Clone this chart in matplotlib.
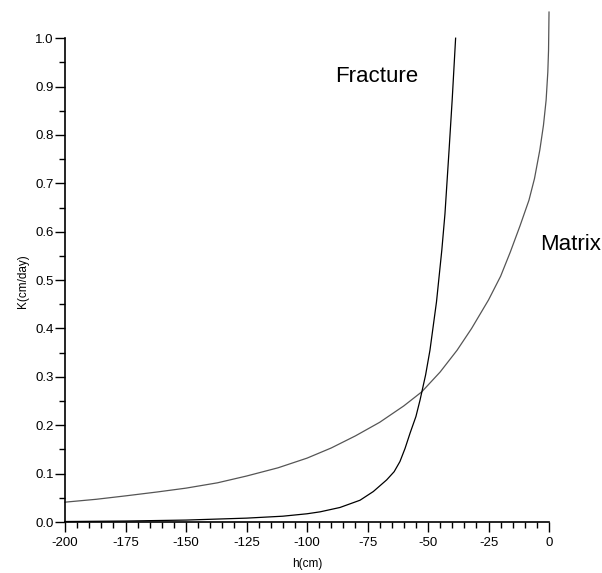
import matplotlib
matplotlib.use('Agg')
import matplotlib.pyplot as plt
from matplotlib.ticker import MultipleLocator, FixedLocator

plt.rcParams['font.family'] = ['Liberation Sans', 'DejaVu Sans']

# values
h_matrix = [-200, -187, -175, -162, -150, -137, -125, -112, -100, -90, -80, -70,
            -60, -52.6, -45, -38, -32, -25, -20, -16, -12, -8.3, -6, -3.8, -2.3,
            -1.2, -0.5, -0.2, 0]
k_matrix = [0.041, 0.047, 0.054, 0.062, 0.070, 0.081, 0.095, 0.112, 0.132, 0.153,
            0.178, 0.206, 0.240, 0.269, 0.310, 0.355, 0.400, 0.459, 0.508, 0.558,
            0.612, 0.665, 0.710, 0.769, 0.820, 0.872, 0.930, 0.975, 1.054]

h_fracture = [-200, -175, -150, -125, -110, -100, -94.6, -86.4, -78.1, -72.6, -67.1,
              -64, -61.6, -59.5, -57.4, -55, -53.3, -51, -49.2, -46.5, -44.3, -43.0,
              -41.3, -40, -38.6]
k_fracture = [0.001, 0.002, 0.004, 0.008, 0.012, 0.017, 0.021, 0.030, 0.045, 0.063,
              0.087, 0.104, 0.125, 0.152, 0.184, 0.218, 0.252, 0.304, 0.355, 0.455,
              0.562, 0.637, 0.769, 0.874, 1.0]

yticks = [i / 10 for i in range(11)]
ylabels = ['%.1f' % v for v in yticks]
xticks = [-200, -175, -150, -125, -100, -75, -50, -25, 0]
xlabels = ['-200', '-175', '-150', '-125', '-100', '-75', '-50', '-25', '0']

fig = plt.figure(figsize=(6.02, 5.73), dpi=100)
ax = fig.add_axes([0.108, 0.089, 0.804, 0.895])

ax.plot(h_matrix, k_matrix, color='#555555', lw=0.9, clip_on=False)
ax.plot(h_fracture, k_fracture, color='black', lw=0.9, clip_on=False)

ax.text(-88.4, 0.909, 'Fracture', fontsize=16, ha='left', va='baseline')
ax.text(-3.7, 0.562, 'Matrix', fontsize=16, ha='left', va='baseline')

ax.set_xlim(-200, 0)
ax.set_ylim(0, 1.06)
for s in ['top', 'right']:
    ax.spines[s].set_visible(False)
ax.spines['left'].set_bounds(0, 1)
ax.spines['left'].set_linewidth(1.2)
ax.spines['bottom'].set_linewidth(1.2)

ax.set_xticks(xticks)
ax.set_xticklabels(xlabels)
ax.xaxis.set_minor_locator(MultipleLocator(5))
ax.set_yticks(yticks)
ax.set_yticklabels(ylabels)
ax.yaxis.set_minor_locator(FixedLocator([0.05 + i / 10 for i in range(10)]))

ax.tick_params(which='major', length=7, width=1.0, labelsize=9.5, direction='out')
ax.tick_params(which='minor', length=4.5, width=1.0, direction='out')
ax.tick_params(axis='x', pad=4)
ax.tick_params(axis='y', pad=1)

ax.set_xlabel('h(cm)', fontsize=8.5, labelpad=6)
ax.set_ylabel('K(cm/day)', fontsize=8.5, labelpad=6)
ax.yaxis.set_label_coords(-0.075, 0.47)

fig.savefig('out.png', dpi=100)
